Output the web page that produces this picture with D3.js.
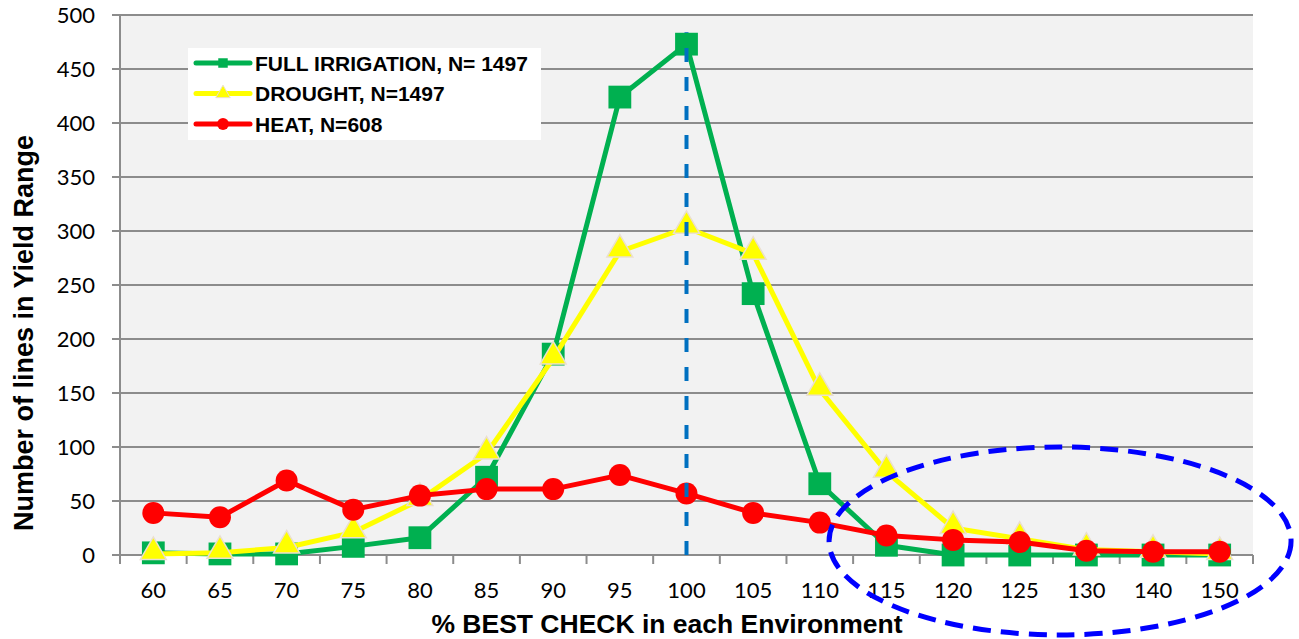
<!DOCTYPE html>
<html>
<head>
<meta charset="utf-8">
<script src="https://cdn.jsdelivr.net/npm/d3@7"></script>
<style>
  body { margin: 0; background: #fff; }
  svg { display: block; }
  .tick text { font-family: Lato, "Open Sans", sans-serif; font-size: 22px; fill: #000; }
  .axtitle { font-family: "Liberation Sans", Arial, sans-serif; font-weight: bold; fill: #000; }
  .leg { font-family: "Liberation Sans", Arial, sans-serif; font-weight: bold; font-size: 21px; fill: #000; }
</style>
</head>
<body>
<svg width="1299" height="639"></svg>
<script>
//	categories on the x axis (% best check)
var categories = ["60", "65", "70", "75", "80", "85", "90", "95", "100", "105", "110", "115", "120", "125", "130", "140", "150"];
//	number of lines in each yield range
var fullIrrigation = [2, 1, 1, 8, 16, 72, 186, 424, 473, 242, 66, 9, 0, 0, 0, 0, 0];
var drought = [1, 2, 7, 21, 51, 94, 182, 281, 303, 279, 153, 77, 25, 15, 5, 3, 1];
var heat = [39, 35, 69, 42, 55, 61, 61, 74, 57, 39, 30, 18, 14, 12, 4, 3, 3];
var seriesNames = ["FULL IRRIGATION, N= 1497", "DROUGHT, N=1497", "HEAT, N=608"];
var yTicks = [0, 50, 100, 150, 200, 250, 300, 350, 400, 450, 500];

var svg = d3.select("svg");
var margin = {top: 15, right: 46, bottom: 84, left: 120};
var width = +svg.attr("width") - margin.left - margin.right,
	height = +svg.attr("height") - margin.top - margin.bottom;
var g = svg.append("g").attr("transform", "translate(" + margin.left + "," + margin.top + ")");

var x = d3.scaleBand().domain(categories).range([0, width]),
	y = d3.scaleLinear().domain([0, 500]).range([height, 0]);
var cx = function(c) { return x(c) + x.bandwidth() / 2; };

//	plot background
g.append("rect").attr("width", width).attr("height", height).attr("fill", "#f2f2f2");

//	horizontal grid
g.append("g").selectAll("line").data(yTicks).enter().append("line")
	.attr("x1", -8).attr("x2", width)
	.attr("y1", function(d) { return y(d); }).attr("y2", function(d) { return y(d); })
	.attr("stroke", "#8c8c8c").attr("stroke-width", 2);

//	left axis line
g.append("line").attr("x1", 0).attr("x2", 0).attr("y1", 0).attr("y2", height)
	.attr("stroke", "#8c8c8c").attr("stroke-width", 2);

//	y axis labels
var axisY = d3.axisLeft(y).tickValues(yTicks).tickSize(0).tickPadding(25);
g.append("g").call(axisY).call(function(s) { s.select(".domain").remove(); });

//	x axis: ticks at the category boundaries
var bounds = d3.range(categories.length + 1).map(function(i) { return i * x.step(); });
g.append("g").selectAll("line").data(bounds).enter().append("line")
	.attr("x1", function(d) { return d; }).attr("x2", function(d) { return d; })
	.attr("y1", height).attr("y2", height + 9)
	.attr("stroke", "#8c8c8c").attr("stroke-width", 2);
var axisX = d3.axisBottom(x).tickSize(0).tickPadding(27);
g.append("g").attr("transform", "translate(0," + height + ")").call(axisX)
	.call(function(s) { s.select(".domain").remove(); });

//	axis titles
svg.append("text").attr("class", "axtitle")
	.attr("x", 667).attr("y", 633).attr("text-anchor", "middle").attr("font-size", 26.5)
	.text("% BEST CHECK in each Environment");
svg.append("text").attr("class", "axtitle")
	.attr("transform", "translate(33,333) rotate(-90)").attr("text-anchor", "middle").attr("font-size", 27)
	.text("Number of lines in Yield Range");

//	lines
var line = d3.line()
	.x(function(d, i) { return cx(categories[i]); })
	.y(function(d) { return y(d); });

var sq = d3.symbol().type(d3.symbolSquare).size(520);
var tri = d3.symbol().type(d3.symbolTriangle).size(290);

//	full irrigation
g.append("path").datum(fullIrrigation).attr("d", line)
	.attr("fill", "none").attr("stroke", "#00b050").attr("stroke-width", 5).attr("stroke-linejoin", "round");
g.append("g").selectAll("path").data(fullIrrigation).enter().append("path")
	.attr("d", sq)
	.attr("transform", function(d, i) { return "translate(" + cx(categories[i]) + "," + y(d) + ")"; })
	.attr("fill", "#00b050");

//	drought
g.append("path").datum(drought).attr("d", line)
	.attr("fill", "none").attr("stroke", "#ffff00").attr("stroke-width", 5).attr("stroke-linejoin", "round");
g.append("g").selectAll("path").data(drought).enter().append("path")
	.attr("d", tri)
	.attr("transform", function(d, i) { return "translate(" + cx(categories[i]) + "," + (y(d) - 2) + ")"; })
	.attr("fill", "#ffff00").attr("stroke", "#eadfcf").attr("stroke-width", 1.5);

//	heat
g.append("path").datum(heat).attr("d", line)
	.attr("fill", "none").attr("stroke", "#ff0000").attr("stroke-width", 5).attr("stroke-linejoin", "round");
g.append("g").selectAll("circle").data(heat).enter().append("circle")
	.attr("cx", function(d, i) { return cx(categories[i]); })
	.attr("cy", function(d) { return y(d); })
	.attr("r", 11).attr("fill", "#ff0000");

//	dashed reference line at 100%
g.append("line")
	.attr("x1", cx("100")).attr("x2", cx("100"))
	.attr("y1", y(0)).attr("y2", y(484))
	.attr("stroke", "#0070c0").attr("stroke-width", 4).attr("stroke-dasharray", "14,15");

//	legend
var leg = g.append("g").attr("transform", "translate(68,33)");
leg.append("rect").attr("width", 353).attr("height", 92).attr("fill", "#fff");
var legColors = ["#00b050", "#ffff00", "#ff0000"];
seriesNames.forEach(function(name, i) {
	var ly = 15 + i * 30.5;
	leg.append("line").attr("x1", 8).attr("x2", 62).attr("y1", ly).attr("y2", ly)
		.attr("stroke", legColors[i]).attr("stroke-width", 5).attr("stroke-linecap", "round");
	var mark;
	if (i === 0) mark = leg.append("path").attr("d", d3.symbol().type(d3.symbolSquare).size(90)).attr("fill", legColors[i]);
	else if (i === 1) mark = leg.append("path").attr("d", d3.symbol().type(d3.symbolTriangle).size(90)).attr("fill", legColors[i]).attr("stroke", "#eadfcf");
	else mark = leg.append("path").attr("d", d3.symbol().type(d3.symbolCircle).size(110)).attr("fill", legColors[i]);
	mark.attr("transform", "translate(35," + ly + ")");
	leg.append("text").attr("class", "leg").attr("x", 67).attr("y", ly + 7.5).text(name);
});

//	dashed ellipse highlighting the upper tail
g.append("ellipse")
	.attr("cx", (cx("125") + cx("130")) / 2 + 7).attr("cy", y(13))
	.attr("rx", 231).attr("ry", 94)
	.attr("fill", "none").attr("stroke", "#0000ff").attr("stroke-width", 5).attr("stroke-dasharray", "18,10");
</script>
</body>
</html>
